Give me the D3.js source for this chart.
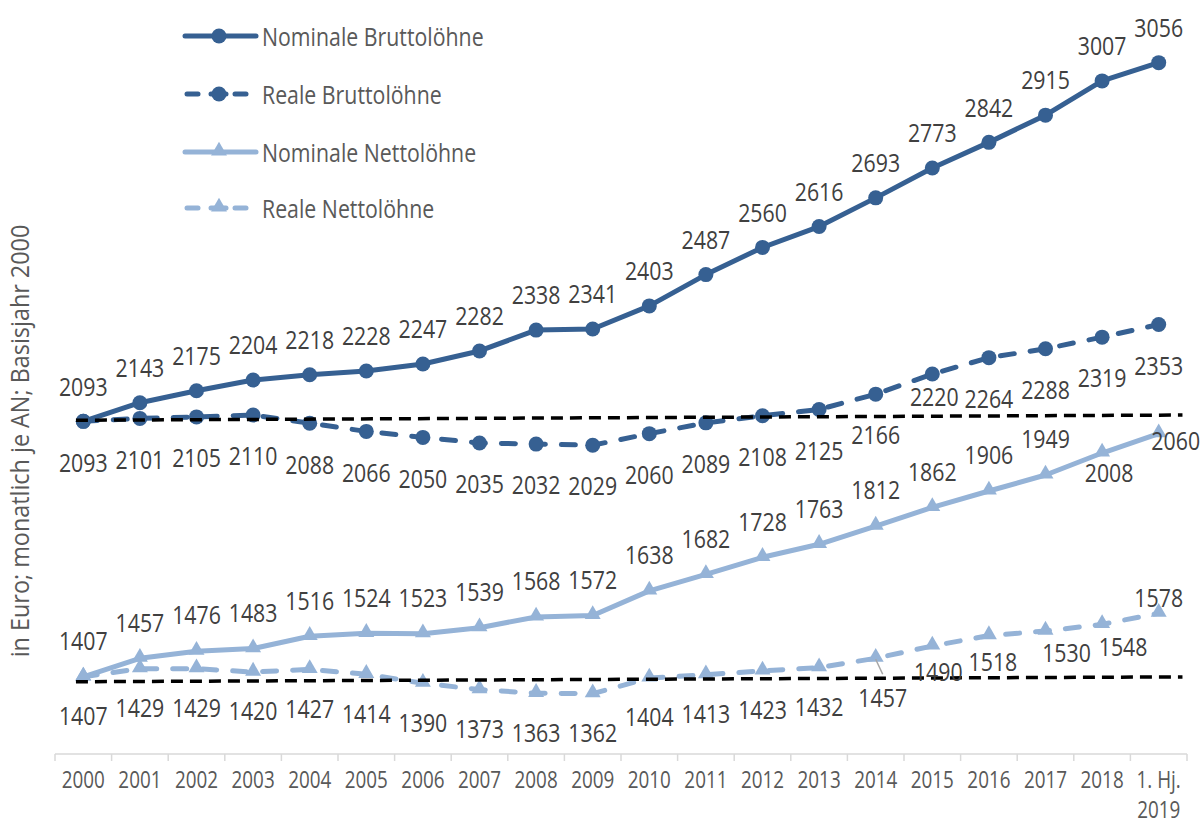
<!DOCTYPE html>
<html><head><meta charset="utf-8">
<script src="https://cdn.jsdelivr.net/npm/d3@7"></script>
<style>body{margin:0;background:#fff} svg{display:block}</style>
</head><body><svg id="c" width="1204" height="824"></svg>
<script>
// ---------- DATA ----------
const categories = ["2000","2001","2002","2003","2004","2005","2006","2007","2008","2009","2010","2011","2012","2013","2014","2015","2016","2017","2018","1. Hj.\n2019"];
const seriesNames = ["Nominale Bruttolöhne","Reale Bruttolöhne","Nominale Nettolöhne","Reale Nettolöhne"];
const nomBrutto = [2093,2143,2175,2204,2218,2228,2247,2282,2338,2341,2403,2487,2560,2616,2693,2773,2842,2915,3007,3056];
const realBrutto = [2093,2101,2105,2110,2088,2066,2050,2035,2032,2029,2060,2089,2108,2125,2166,2220,2264,2288,2319,2353];
const nomNetto = [1407,1457,1476,1483,1516,1524,1523,1539,1568,1572,1638,1682,1728,1763,1812,1862,1906,1949,2008,2060];
const realNetto = [1407,1429,1429,1420,1427,1414,1390,1373,1363,1362,1404,1413,1423,1432,1457,1490,1518,1530,1548,1578];
const refUpper = [2096,2110];   // black dashed reference line (start, end)
const refLower = [1394,1407];
const yTitle = "in Euro; monatlich je AN; Basisjahr 2000";

// ---------- LAYOUT / STYLE ----------
const DARK = "#366092", LIGHT = "#95B3D7", TXT = "#404040", TXT2 = "#595959";
const FONT = "'Open Sans','Noto Sans',sans-serif";
const SX = 0.82;
const svg = d3.select("#c");
const x = d3.scaleBand().domain(categories).range([55,1187]).padding(0);
const y = d3.scaleLinear().domain([1200,3200]).range([754,9]);
const bw = x.bandwidth();
const xi = i => x(categories[i]) + bw/2;
const xf = t => x.range()[0] + bw/2 + t*bw;

// label placement: default offset per series, plus per-point exceptions [dx,dy]
const series = [
  {name:seriesNames[0], values:nomBrutto, color:DARK, dash:null, marker:"circle", dy:-35, ex:{}},
  {name:seriesNames[1], values:realBrutto, color:DARK, dash:"14,16", marker:"circle", dy:41, ex:{15:[2,23]}},
  {name:seriesNames[2], values:nomNetto, color:LIGHT, dash:null, marker:"triangle", dy:-36, ex:{18:[7,20],19:[17,7]}},
  {name:seriesNames[3], values:realNetto, color:LIGHT, dash:"14,16", marker:"triangle", dy:39, ex:{14:[7,39],15:[6,26],16:[4,26],17:[21,22],18:[21,22],19:[0,-15]}},
];
const leaders = [{s:3, i:14}];

function stext(g, str, px, py, size, color, anchor){
  const gg = g.append("g").attr("transform",`translate(${px},${py})`);
  gg.append("text").attr("transform",`scale(${SX},1)`)
    .attr("text-anchor", anchor||"middle")
    .attr("font-family",FONT).attr("font-size",size).attr("fill",color)
    .text(str);
  return gg;
}

// ---------- AXIS ----------
const axisG = svg.append("g").attr("transform","translate(0,754)");
axisG.append("line").attr("x1",x.range()[0]).attr("x2",x.range()[1]).attr("y1",0).attr("y2",0)
  .attr("stroke","#D9D9D9").attr("stroke-width",1.5);
const bounds = categories.map(c=>x(c)).concat([x.range()[1]]);
axisG.selectAll("line.tk").data(bounds).join("line").attr("class","tk")
  .attr("x1",d=>d).attr("x2",d=>d).attr("y1",0).attr("y2",7)
  .attr("stroke","#D9D9D9").attr("stroke-width",1.5);
const ax = d3.axisBottom(x).tickSize(0).tickPadding(0);
const axG2 = axisG.append("g").call(ax);
axG2.select(".domain").remove();
axG2.selectAll(".tick text").each(function(d){
  const t = d3.select(this);
  t.text(null).attr("y",null).attr("dy",null)
   .attr("font-family",FONT).attr("font-size",23).attr("fill",TXT2)
   .attr("transform",`scale(${SX},1)`);
  d.split("\n").forEach((ln,k)=>{
    t.append("tspan").attr("x",0).attr("y",34+k*30).text(ln);
  });
});

// ---------- Y TITLE ----------
svg.append("g").attr("transform","translate(29,441) rotate(-90)")
  .append("text").attr("transform","scale(0.9,1)").attr("text-anchor","middle")
  .attr("font-family",FONT).attr("font-size",26).attr("fill",TXT2).text(yTitle);

// ---------- SERIES ----------
const line = d3.line().x((d,i)=>xi(i)).y(d=>y(d));
const tri = d3.symbol().type(d3.symbolTriangle).size(110);
series.forEach(s=>{
  svg.append("path").attr("d",line(s.values)).attr("fill","none")
    .attr("stroke",s.color).attr("stroke-width",5).attr("stroke-linejoin","round")
    .attr("stroke-linecap", s.dash?"round":"butt")
    .attr("stroke-dasharray", s.dash);
  const mg = svg.append("g");
  s.values.forEach((v,i)=>{
    if(s.marker==="circle") mg.append("circle").attr("cx",xi(i)).attr("cy",y(v)).attr("r",7.5).attr("fill",s.color);
    else mg.append("path").attr("d",tri()).attr("transform",`translate(${xi(i)},${y(v)-1})`).attr("fill",s.color);
  });
});

// ---------- REFERENCE LINES ----------
[refUpper, refLower].forEach(r=>{
  svg.append("line").attr("x1",xf(-0.13)).attr("x2",xf(19.42))
    .attr("y1",y(r[0])).attr("y2",y(r[1]))
    .attr("stroke","#000").attr("stroke-width",3.5).attr("stroke-dasharray","12,7");
});

// ---------- LEADERS ----------
leaders.forEach(l=>{
  const s = series[l.s], v = s.values[l.i];
  svg.append("line").attr("x1",xi(l.i)).attr("y1",y(v)+1)
    .attr("x2",xi(l.i)+7).attr("y2",y(v)+16)
    .attr("stroke","#A6A6A6").attr("stroke-width",1.5);
});

// ---------- DATA LABELS ----------
const lg = svg.append("g");
series.forEach(s=>{
  s.values.forEach((v,i)=>{
    const off = s.ex[i] || [0,s.dy];
    stext(lg, String(v), xi(i)+off[0], y(v)+off[1]+9.3, 26, TXT);
  });
});

// ---------- LEGEND ----------
const legY = [36,94,152,208];
series.forEach((s,k)=>{
  const g = svg.append("g").attr("transform",`translate(0,${legY[k]})`);
  if(s.dash){
    [[187,198],[211,226],[235,246]].forEach(seg=>{
      g.append("line").attr("x1",seg[0]).attr("x2",seg[1]).attr("y1",0).attr("y2",0)
        .attr("stroke",s.color).attr("stroke-width",5).attr("stroke-linecap","round");
    });
  } else {
    g.append("line").attr("x1",185).attr("x2",256).attr("y1",0).attr("y2",0)
      .attr("stroke",s.color).attr("stroke-width",5).attr("stroke-linecap","round");
  }
  if(s.marker==="circle") g.append("circle").attr("cx",219).attr("cy",0).attr("r",7.5).attr("fill",s.color);
  else g.append("path").attr("d",tri()).attr("transform","translate(219,-1)").attr("fill",s.color);
  stext(g, s.name, 262, 9.5, 26, TXT2, "start");
});
</script></body></html>
